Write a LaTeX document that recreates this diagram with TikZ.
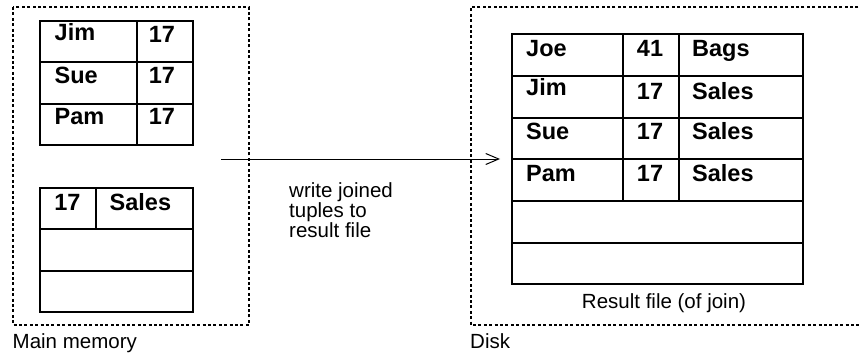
\documentclass[tikz,border=0pt]{standalone}
\usepackage{fontspec}
\setmainfont{Liberation Sans}
\usetikzlibrary{arrows.meta}
\begin{document}
\begin{tikzpicture}[x=1pt,y=-1pt,
  grid/.style={line width=1.4pt, draw=black},
  tablebox/.style={grid, inner sep=0pt, outer sep=0pt, anchor=north west},
  region/.style={line width=1.2pt, dash pattern=on 3pt off 2.4pt},
  cell/.style={inner sep=0pt, font=\fontsize{23.5}{24}\selectfont\bfseries},
  lbl/.style={inner sep=0pt, font=\fontsize{20.5}{20}\selectfont},
]
\clip (0,0) rectangle (859,356);
\fill[white] (0,0) rectangle (859,356);

% ---- main memory ----
\draw[region] (13,7) rectangle (249,325);
\node[lbl, anchor=base west] (memlbl) at (12.5,348.3) {Main memory};

% buffer holding the (name, dept) tuples
\node[tablebox, minimum width=153pt, minimum height=124pt] (emp) at (40,21) {};
\draw[grid] (40,62) -- (193,62) (40,104) -- (193,104) (137,21) -- (137,145);
\node[cell, anchor=base west] (e1) at (54.5,40.5) {Jim};
\node[cell, anchor=base west] (e2) at (54.5,83) {Sue};
\node[cell, anchor=base west] (e3) at (54.5,124) {Pam};
\node[cell, anchor=base] (d1) at (162,42.5) {17};
\node[cell, anchor=base] (d2) at (162,83) {17};
\node[cell, anchor=base] (d3) at (162,124) {17};

% buffer holding the (dept, name) tuples
\node[tablebox, minimum width=153pt, minimum height=124pt] (dept) at (40,188) {};
\draw[grid] (40,229) -- (193,229) (40,271) -- (193,271) (96,188) -- (96,229);
\node[cell, anchor=base] (k1) at (67.5,210) {17};
\node[cell, anchor=base west] (n1) at (109.5,210) {Sales};

% ---- disk ----
\draw[region] (880,7) -- (471,7) -- (471,325) -- (880,325);
\node[lbl, anchor=base west] (disklbl) at (470,348.3) {Disk};

\node[tablebox, minimum width=291pt, minimum height=250pt] (result) at (512,34) {};
\draw[grid] (512,76) -- (803,76) (512,118) -- (803,118) (512,159) -- (803,159)
  (512,201) -- (803,201) (512,243) -- (803,243)
  (623,34) -- (623,201) (679,34) -- (679,201);
\node[cell, anchor=base west] (r1a) at (526,56.5) {Joe};
\node[cell, anchor=base west] (r2a) at (526,95.5) {Jim};
\node[cell, anchor=base west] (r3a) at (526,139.3) {Sue};
\node[cell, anchor=base west] (r4a) at (526,181) {Pam};
\node[cell, anchor=base] (r1b) at (650,56.5) {41};
\node[cell, anchor=base] (r2b) at (650,99) {17};
\node[cell, anchor=base] (r3b) at (650,139.3) {17};
\node[cell, anchor=base] (r4b) at (650,181) {17};
\node[cell, anchor=base west] (r1c) at (692,56.5) {Bags};
\node[cell, anchor=base west] (r2c) at (692,99) {Sales};
\node[cell, anchor=base west] (r3c) at (692,139.3) {Sales};
\node[cell, anchor=base west] (r4c) at (692,181) {Sales};
\node[lbl, anchor=base] (reslbl) at (664,308) {Result file (of join)};

% ---- output of joined tuples ----
\coordinate (src) at (221,159);
\draw[line width=1pt, -{Straight Barb[length=13pt,width=11pt]}, shorten >=12pt]
  (src) -- (src -| result.west);
% the base anchor of a multi-line node sits on its last line
\node[lbl, anchor=base west, align=left] (note) at (289,237.3)
  {write joined\\tuples to\\result file};
\end{tikzpicture}
\end{document}
